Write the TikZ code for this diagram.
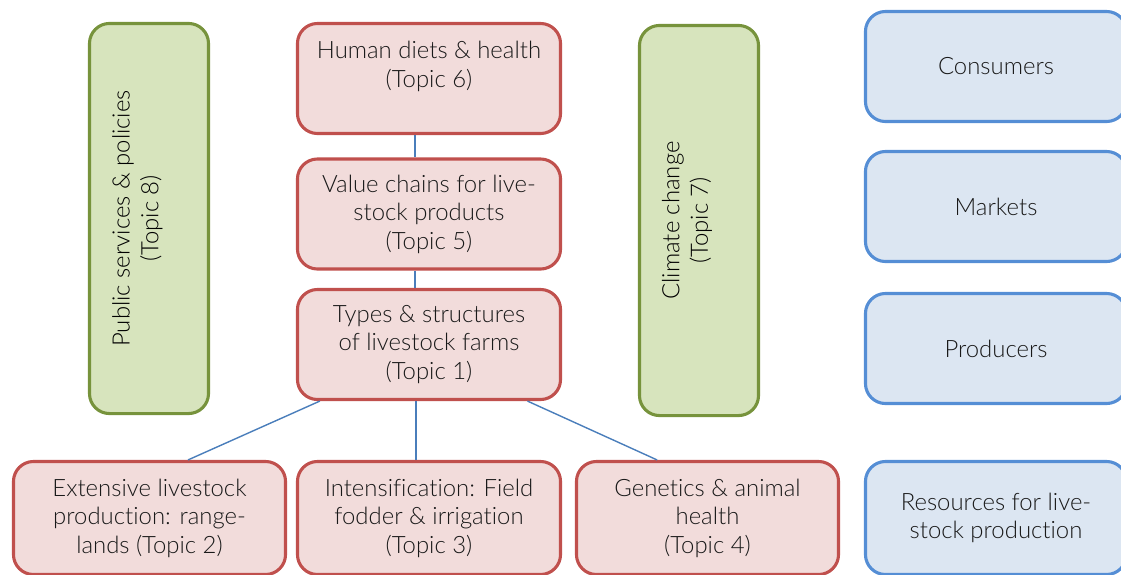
\documentclass[tikz,border=0pt]{standalone}
\usepackage{fontspec}
\setmainfont{Lato}[UprightFont=* Light, Ligatures=NoCommon]
\usetikzlibrary{calc}
\definecolor{redline}{HTML}{C0504D}
\definecolor{redfill}{HTML}{F2DCDB}
\definecolor{greenline}{HTML}{77933C}
\definecolor{greenfill}{HTML}{D7E4BD}
\definecolor{blueline}{HTML}{558ED5}
\definecolor{bluefill}{HTML}{DCE6F2}
\definecolor{linkblue}{HTML}{4A7EBB}
\begin{document}
\begin{tikzpicture}[x=0.025cm,y=-0.025cm,font=\fontsize{17}{20.3}\selectfont,
	box/.style={rounded corners=0.5cm, line width=2.2pt, align=center, inner sep=0pt, text=black!90},
	topic/.style={box, draw=redline, fill=redfill, minimum height=2.75cm},
	frame/.style={box, draw=greenline, fill=greenfill, minimum width=2.975cm, minimum height=9.75cm},
	level/.style={box, draw=blueline, fill=bluefill, minimum width=6.525cm, minimum height=2.75cm},
	link/.style={linkblue, line width=1pt}]
	\useasboundingbox (0,0) rectangle (1121,574);

	%green frames
	\node[frame] (policies) at (149,218.5) {};
	\node[frame] (climate) at (699,220.5) {};
	\node[rotate=90, align=center] (policieslabel) at ([xshift=-0.29cm]policies.center) {Public services \& policies\\(Topic 8)}; %Topic 8 label
	\node[rotate=90, align=center] (climatelabel) at ([xshift=-0.3cm]climate.center) {Climate change\\(Topic 7)}; %Topic 7 label

	%red topics
	\node[topic, minimum width=6.575cm] (diets) at (429,78.5) {Human diets \& health\\(Topic 6)\\\mbox{}};
	\node[topic, minimum width=6.575cm] (chains) at (429,214) {Value chains for live-\\stock products\\(Topic 5)};
	\node[topic, minimum width=6.575cm] (farms) at (429,344.5) {Types \& structures\\of livestock farms\\(Topic 1)};
	\node[topic, minimum width=6.8cm, minimum height=2.825cm] (range) at (149.5,518) {Extensive livestock\\production: range-\\lands (Topic 2)};
	\node[topic, minimum width=6.575cm, minimum height=2.825cm] (fodder) at (429,518) {Intensification: Field\\fodder \& irrigation\\(Topic 3)};
	\node[topic, minimum width=6.55cm, minimum height=2.825cm] (genetics) at (707.5,518) {Genetics \& animal\\health\\(Topic 4)};

	%blue levels
	\node[level] (consumers) at (996,66.5) {Consumers};
	\node[level] (markets) at (996,206.5) {Markets};
	\node[level] (producers) at (996,348.5) {Producers};
	\node[level, minimum height=2.825cm] (resources) at (996,518) {Resources for live-\\stock production};

	%connectors
	\draw[link] ([xshift=-0.35cm]diets.south) -- ([xshift=-0.35cm]chains.north);
	\draw[link] ([xshift=-0.35cm]chains.south) -- ([xshift=-0.35cm]farms.north);
	\draw[link] ($(farms.south west)!0.09!(farms.south east)$) -- ($(range.north west)!0.64!(range.north east)$); %to Topic 2
	\draw[link] ([xshift=-0.33cm]farms.south) -- ([xshift=-0.33cm]fodder.north); %to Topic 3
	\draw[link] ($(farms.south west)!0.87!(farms.south east)$) -- ($(genetics.north west)!0.31!(genetics.north east)$); %to Topic 4
\end{tikzpicture}
\end{document}
